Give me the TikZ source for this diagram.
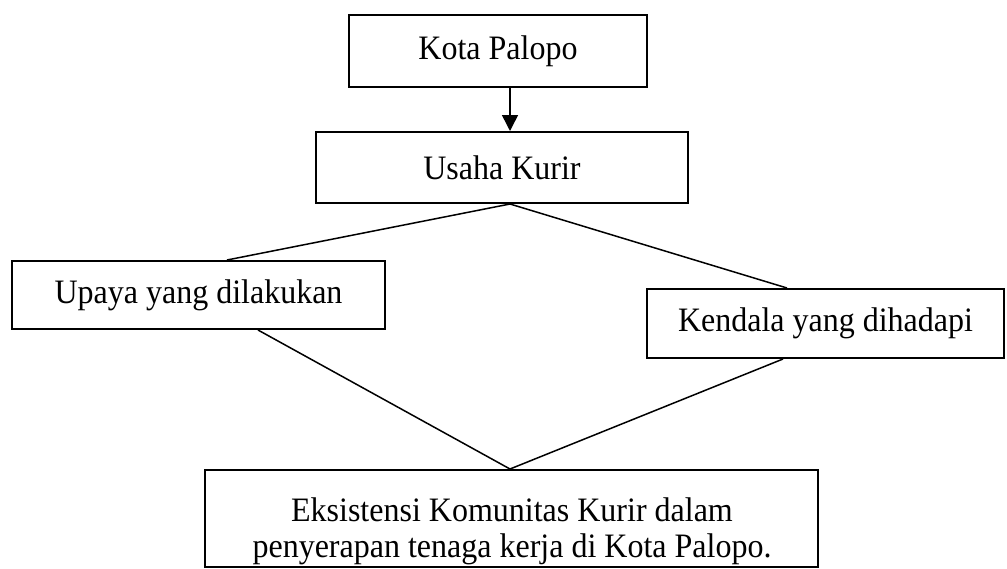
\documentclass[tikz,border=0pt]{standalone}
\usepackage{fontspec}
\setmainfont{Liberation Serif}
\usetikzlibrary{arrows.meta,calc}
\newcommand{\tallt}[1]{\scalebox{1}[1.07]{#1}}
\begin{document}
\begin{tikzpicture}[x=0.5pt,y=-0.5pt,
  box/.style={draw,line width=1pt,rectangle,inner sep=0pt,anchor=center},
  conn/.style={line width=0.75pt},
  every node/.style={font=\fontsize{16}{18}\selectfont}]
\useasboundingbox (0,0) rectangle (1007,568);
% boxes
\node[box,minimum width=149pt,minimum height=36pt] (b1) at (498,51) {\tallt{Kota Palopo}};
\node[box,minimum width=186pt,minimum height=35.5pt] (b2) at (502,167.5) {\tallt{Usaha Kurir}};
\node[box,minimum width=186.5pt,minimum height=34pt] (b3) at (198.5,295) {\tallt{Upaya yang dilakukan}};
\node[box,minimum width=178.5pt,minimum height=34.5pt] (b4) at (825.5,323.5) {\tallt{Kendala yang dihadapi}};
\node[box,minimum width=306.5pt,minimum height=48.5pt] (b5) at (511.5,518.5) {};
\node[align=center,inner sep=0pt] (b5t) at (512,531) {\tallt{Eksistensi Komunitas Kurir dalam}\\\tallt{penyerapan tenaga kerja di Kota Palopo.}};
% coordinates on borders
\coordinate (ax) at (510,0);
\coordinate (c3t) at (227,0);
\coordinate (c4t) at (787,0);
\coordinate (c3b) at (258,0);
\coordinate (c4b) at (783,0);
\coordinate (c5) at (510,0);
% connectors
\draw[conn,-{Triangle[length=8pt,width=8pt]}] (b1.south -| ax) -- (b2.north -| ax);
\draw[conn] (b2.south -| ax) -- (b3.north -| c3t);
\draw[conn] (b2.south -| ax) -- (b4.north -| c4t);
\draw[conn] (b3.south -| c3b) -- (b5.north -| c5);
\draw[conn] (b4.south -| c4b) -- (b5.north -| c5);
\end{tikzpicture}
\end{document}
